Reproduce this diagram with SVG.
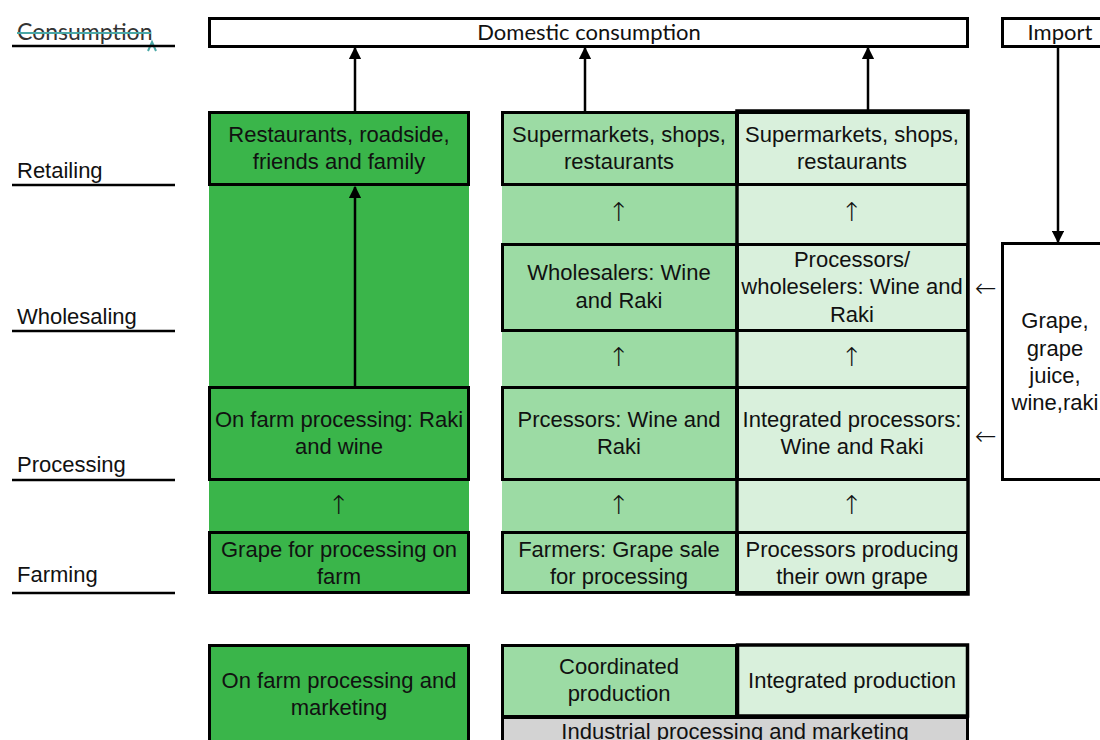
<svg xmlns="http://www.w3.org/2000/svg" width="1100" height="740" viewBox="0 0 1100 740" font-family="'Liberation Sans', Arial, sans-serif" font-size="22">
<style>
text{fill:#111;text-anchor:middle}
.geo{font-family:Lato,sans-serif;font-size:22px}
.lbl{text-anchor:start}
.ar{font-size:26px;font-family:"DejaVu Sans",sans-serif;font-weight:300}
.b{stroke:#000;stroke-width:3}
.c1{fill:#3AB54A}
.c2{fill:#9CDBA4}
.c3{fill:#D9F0DC}
.gr{fill:#D3D3D3}
.w{fill:#fff}
.ul{stroke:#000;stroke-width:2.5}
.conn{stroke:#000;stroke-width:2.5;fill:none}
</style>
<defs>
<marker id="ah" viewBox="0 0 10 10" refX="9" refY="5" markerWidth="5" markerHeight="5" orient="auto" markerUnits="strokeWidth">
<path d="M0,0 L10,5 L0,10 z" fill="#000"/>
</marker>
</defs>
<rect width="1100" height="740" fill="#fff"/>

<g id="stage-labels">
<text class="geo lbl" x="17" y="40" style="fill:#333;font-size:23px">Consumption</text>
<line x1="17" y1="33" x2="151" y2="33" stroke="#4AA8A6" stroke-width="2"/>
<path d="M148,51 L152,42 L156,51" stroke="#4AA8A6" stroke-width="2" fill="none"/>
<line class="ul" x1="12" y1="46" x2="175" y2="46"/>
<text class="lbl" x="17" y="178">Retailing</text>
<line class="ul" x1="12" y1="185" x2="175" y2="185"/>
<text class="lbl" x="17" y="324">Wholesaling</text>
<line class="ul" x1="12" y1="331" x2="175" y2="331"/>
<text class="lbl" x="17" y="472">Processing</text>
<line class="ul" x1="12" y1="480" x2="175" y2="480"/>
<text class="lbl" x="17" y="582">Farming</text>
<line class="ul" x1="12" y1="593" x2="175" y2="593"/>
</g>

<g id="domestic">
<rect class="b w" x="209.5" y="18.5" width="758" height="28"/>
<text class="geo" x="589" y="40">Domestic consumption</text>
</g>
<g id="import">
<rect class="b w" x="1002.5" y="18.5" width="110" height="28"/>
<text class="geo" x="1060" y="40">Import</text>
</g>
<g id="import-goods">
<rect class="b w" x="1002.5" y="243.5" width="110" height="236"/>
<text x="1055" y="328">Grape,</text>
<text x="1055" y="356">grape</text>
<text x="1055" y="383">juice,</text>
<text x="1055" y="410">wine,raki</text>
</g>

<g id="col1-bg"><rect class="c1" x="209" y="112" width="260" height="481"/></g>
<g id="col2-bg"><rect class="c2" x="502" y="112" width="235" height="481"/></g>
<g id="col3-bg"><rect class="c3" x="737" y="112" width="231" height="481"/></g>

<g id="c1-retail">
<rect class="b c1" x="209.5" y="112.5" width="259" height="72"/>
<text x="339" y="142">Restaurants, roadside,</text>
<text x="339" y="169">friends and family</text>
</g>
<g id="c1-proc">
<rect class="b c1" x="209.5" y="387.5" width="259" height="92"/>
<text x="339" y="427">On farm processing: Raki</text>
<text x="339" y="454">and wine</text>
</g>
<g id="c1-farm">
<rect class="b c1" x="209.5" y="532.5" width="259" height="60"/>
<text x="339" y="557">Grape for processing on</text>
<text x="339" y="584">farm</text>
</g>
<text class="ar" x="339" y="514">↑</text>

<g id="c2-retail">
<rect class="b c2" x="502.5" y="112.5" width="234" height="72"/>
<text x="619" y="142">Supermarkets, shops,</text>
<text x="619" y="169">restaurants</text>
</g>
<g id="c2-whole">
<rect class="b c2" x="502.5" y="244.5" width="234" height="86"/>
<text x="619" y="280">Wholesalers: Wine</text>
<text x="619" y="308">and Raki</text>
</g>
<g id="c2-proc">
<rect class="b c2" x="502.5" y="387.5" width="234" height="92"/>
<text x="619" y="427">Prcessors: Wine and</text>
<text x="619" y="454">Raki</text>
</g>
<g id="c2-farm">
<rect class="b c2" x="502.5" y="532.5" width="234" height="60"/>
<text x="619" y="557">Farmers: Grape sale</text>
<text x="619" y="584">for processing</text>
</g>
<text class="ar" x="619" y="221">↑</text>
<text class="ar" x="619" y="366">↑</text>
<text class="ar" x="619" y="514">↑</text>

<g id="c3-retail">
<rect class="b c3" x="737.5" y="112.5" width="230" height="72"/>
<text x="852" y="142">Supermarkets, shops,</text>
<text x="852" y="169">restaurants</text>
</g>
<g id="c3-whole">
<rect class="b c3" x="737.5" y="244.5" width="230" height="86"/>
<text x="852" y="267">Processors/</text>
<text x="852" y="294">wholeselers: Wine and</text>
<text x="852" y="322">Raki</text>
</g>
<g id="c3-proc">
<rect class="b c3" x="737.5" y="387.5" width="230" height="92"/>
<text x="852" y="427">Integrated processors:</text>
<text x="852" y="454">Wine and Raki</text>
</g>
<g id="c3-farm">
<rect class="b c3" x="737.5" y="532.5" width="230" height="60"/>
<text x="852" y="557">Processors producing</text>
<text x="852" y="584">their own grape</text>
</g>
<rect x="737" y="111" width="231" height="483" fill="none" stroke="#000" stroke-width="3.5"/>
<text class="ar" x="852" y="221">↑</text>
<text class="ar" x="852" y="366">↑</text>
<text class="ar" x="852" y="514">↑</text>
<text class="ar" x="986" y="297">←</text>
<text class="ar" x="986" y="445">←</text>

<g id="bottom-onfarm">
<rect class="b c1" x="209.5" y="645.5" width="259" height="100"/>
<text x="339" y="688">On farm processing and</text>
<text x="339" y="715">marketing</text>
</g>
<g id="bottom-coord">
<rect class="b c2" x="502.5" y="645.5" width="234" height="71"/>
<text x="619" y="674">Coordinated</text>
<text x="619" y="701">production</text>
</g>
<g id="bottom-integ">
<rect x="737.5" y="645" width="230" height="71" class="c3" stroke="#000" stroke-width="3.5"/>
<text x="852" y="688">Integrated production</text>
</g>
<g id="bottom-industrial">
<rect class="b gr" x="502.5" y="717.5" width="465" height="40"/>
<text x="735" y="739">Industrial processing and marketing</text>
</g>

<g id="connectors">
<line class="conn" x1="355" y1="112" x2="355" y2="48" marker-end="url(#ah)"/>
<line class="conn" x1="585" y1="112" x2="585" y2="48" marker-end="url(#ah)"/>
<line class="conn" x1="868" y1="110" x2="868" y2="48" marker-end="url(#ah)"/>
<line class="conn" x1="355" y1="387" x2="355" y2="187" marker-end="url(#ah)"/>
<line class="conn" x1="1058" y1="47" x2="1058" y2="242" marker-end="url(#ah)"/>
</g>
</svg>
